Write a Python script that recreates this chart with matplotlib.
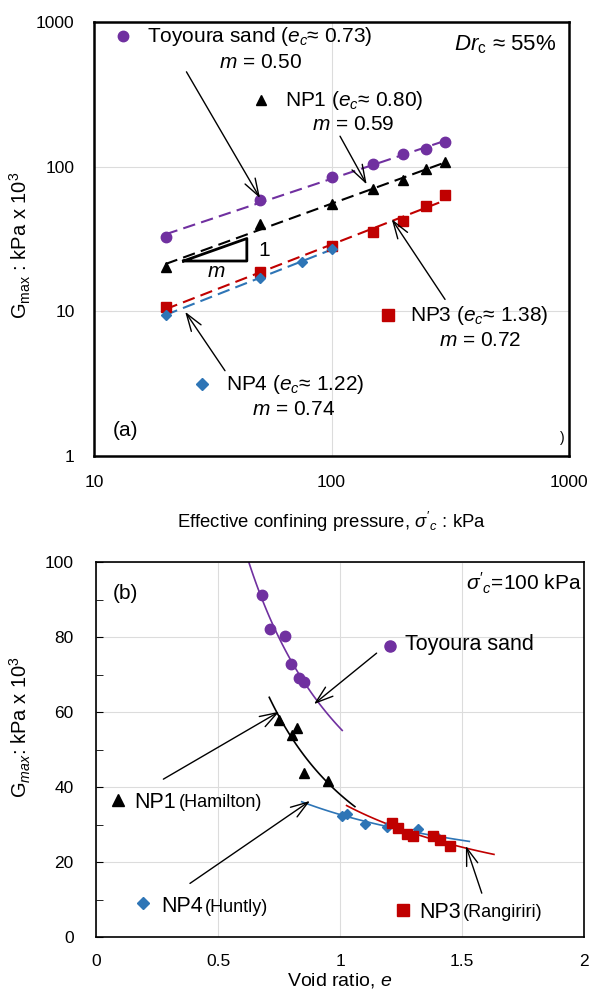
import numpy as np
import matplotlib.pyplot as plt

plt.rcParams['font.family'] = ['Liberation Sans', 'DejaVu Sans']
plt.rcParams['mathtext.fontset'] = 'custom'
plt.rcParams['mathtext.rm'] = 'Liberation Sans'
plt.rcParams['mathtext.it'] = 'Liberation Sans:italic'
plt.rcParams['mathtext.bf'] = 'Liberation Sans:bold'

# ---- (a) Gmax vs confining pressure ----
p_conf = [20, 50, 100, 150, 200, 250, 300]
g_toyoura = [32.8, 58.8, 84.3, 105, 121.6, 132, 149]
g_np1 = [20.3, 40, 55, 70.3, 80.8, 96.2, 108]
g_np3 = [10.7, 18.6, 28.3, 35.5, 42, 53.7, 64]
p_np4 = [20, 50, 75, 100]
g_np4 = [9.5, 17, 21.8, 27.2]

# ---- (b) Gmax vs void ratio at 100 kPa ----
e_toy = [0.682, 0.713, 0.773, 0.800, 0.832, 0.854]
gb_toy = [91.1, 82.1, 80.2, 72.8, 69.1, 68.1]
e_np1 = [0.750, 0.822, 0.802, 0.852, 0.952]
gb_np1 = [57.9, 55.8, 53.9, 43.8, 41.7]
e_np4 = [1.009, 1.030, 1.102, 1.191, 1.321, 1.403]
gb_np4 = [32.3, 32.8, 30.1, 29.4, 28.7, 26.3]
e_np3 = [1.212, 1.239, 1.276, 1.298, 1.382, 1.410, 1.451]
gb_np3 = [30.3, 29.2, 27.4, 27.0, 26.9, 25.9, 24.3]
# void ratio span of each trend curve
span_toy = (0.617, 1.009)
span_np1 = (0.71, 1.061)
span_np4 = (0.843, 1.53)
span_np3 = (1.027, 1.631)

PURPLE = '#7030A0'
RED = '#C00000'
BLUE = '#2E75B6'
GRID = '#DCDCDC'


def power_fit(x, y, xs):
    b, a = np.polyfit(np.log(x), np.log(y), 1)
    return np.exp(a) * np.asarray(xs) ** b


def arrow(ax, start, end):
    ax.annotate('', xy=end, xytext=start,
                arrowprops=dict(arrowstyle='->,head_length=0.9,head_width=0.3',
                                lw=1.0, color='k', shrinkA=0, shrinkB=0,
                                mutation_scale=14))


fig = plt.figure(figsize=(5.92, 9.94), dpi=100)

# ======================= panel (a) =======================
ax1 = fig.add_axes([0.1588, 0.5412, 0.8024, 0.4366])
ax1.set_xscale('log')
ax1.set_yscale('log')
ax1.set_xlim(10, 1000)
ax1.set_ylim(1, 1000)
ax1.grid(True, which='major', color=GRID, lw=0.8)
ax1.set_axisbelow(True)
ax1.tick_params(which='both', length=0, labelsize=12.5, pad=14)
ax1.minorticks_off()
ax1.set_xticks([10, 100, 1000])
ax1.set_xticklabels(['10', '100', '1000'])
ax1.set_yticks([1, 10, 100, 1000])
ax1.set_yticklabels(['1', '10', '100', '1000'])
for s in ax1.spines.values():
    s.set_linewidth(1.8)

series_a = [
    (p_conf, g_toyoura, PURPLE, 'o', 7.5),
    (p_conf, g_np1, 'k', '^', 7.5),
    (p_conf, g_np3, RED, 's', 7),
    (p_np4, g_np4, BLUE, 'D', 5.5),
]
for p, g, c, mk, ms in series_a:
    ax1.plot(p, g, mk, color=c, ms=ms, mec=c, zorder=3)
    ps = np.geomspace(min(p), max(p), 50)
    ax1.plot(ps, power_fit(p, g, ps), color=c, lw=1.5, dashes=(6, 3), zorder=2)

# slope triangle
ax1.plot([23.8, 44.0, 44.0, 23.8], [22.3, 22.3, 31.9, 22.3], color='k', lw=2)
ax1.text(49.2, 26.5, '1', fontsize=15, va='center', ha='left')
ax1.text(32.7, 18.8, '$m$', fontsize=15, va='center', ha='center')

fs = 15
ax1.plot([13.28], [803], 'o', color=PURPLE, ms=7.5)
ax1.text(16.7, 790, 'Toyoura sand ($e_c$≈ 0.73)', fontsize=fs, va='center')
ax1.text(50.4, 528, '$m$ = 0.50', fontsize=fs, va='center', ha='center')
ax1.plot([50.4], [288], '^', color='k', ms=7.5)
ax1.text(63.7, 288, 'NP1 ($e_c$≈ 0.80)', fontsize=fs, va='center')
ax1.text(123, 197, '$m$ = 0.59', fontsize=fs, va='center', ha='center')
ax1.plot([172.6], [9.43], 's', color=RED, ms=8)
ax1.text(214, 9.3, 'NP3 ($e_c$≈ 1.38)', fontsize=fs, va='center')
ax1.text(422, 6.34, '$m$ = 0.72', fontsize=fs, va='center', ha='center')
ax1.plot([28.4], [3.15], 'D', color=BLUE, ms=6)
ax1.text(35.9, 3.12, 'NP4 ($e_c$≈ 1.22)', fontsize=fs, va='center')
ax1.text(69.5, 2.11, '$m$ = 0.74', fontsize=fs, va='center', ha='center')
ax1.text(0.973, 0.947, r'$Dr_{\mathrm{c}}$ ≈ 55%', fontsize=16,
         transform=ax1.transAxes, ha='right', va='center')
ax1.text(0.04, 0.06, '(a)', fontsize=fs, transform=ax1.transAxes, va='center')
ax1.text(0.985, 0.042, ')', fontsize=10, transform=ax1.transAxes,
         va='center', ha='center')

arrow(ax1, (24.5, 453), (50, 60.7))
arrow(ax1, (108.6, 162.6), (140.6, 75.5))
arrow(ax1, (300.6, 12.1), (179.3, 43.4))
arrow(ax1, (35.6, 3.89), (24.2, 9.94))

ax1.set_xlabel("Effective confining pressure, $\\sigma'_c$ : kPa", fontsize=13.3,
               labelpad=14)
ax1.set_ylabel('G$_{\\mathrm{max}}$ : kPa x 10$^3$', fontsize=14.5)
ax1.yaxis.set_label_coords(-0.128, 0.486)

# ======================= panel (b) =======================
ax2 = fig.add_axes([0.1622, 0.0573, 0.8243, 0.3773])
ax2.set_xlim(0, 2)
ax2.set_ylim(0, 100)
ax2.set_xticks([0, 0.5, 1, 1.5, 2])
ax2.set_xticklabels(['0', '0.5', '1', '1.5', '2'])
ax2.set_yticks([0, 20, 40, 60, 80, 100])
ax2.set_yticks(np.arange(10, 100, 20), minor=True)
ax2.grid(True, which='major', color=GRID, lw=0.8)
ax2.set_axisbelow(True)
ax2.tick_params(axis='x', length=0, labelsize=12.5, pad=12)
ax2.tick_params(axis='y', which='both', direction='in', length=5,
                labelsize=12.5, pad=16)
for s in ax2.spines.values():
    s.set_linewidth(1.2)

series_b = [
    (e_toy, gb_toy, span_toy, PURPLE, 'o', 7.5),
    (e_np1, gb_np1, span_np1, 'k', '^', 7.5),
    (e_np4, gb_np4, span_np4, BLUE, 'D', 5),
    (e_np3, gb_np3, span_np3, RED, 's', 7),
]
for e, g, span, c, mk, ms in series_b:
    es = np.linspace(span[0], span[1], 60)
    ax2.plot(es, power_fit(e, g, es), color=c, lw=1.2, zorder=2)
    ax2.plot(e, g, mk, color=c, ms=ms, mec=c, zorder=3)

ax2.plot([1.205], [77.6], 'o', color=PURPLE, ms=8)
ax2.text(1.266, 77.9, 'Toyoura sand', fontsize=15.5, va='center')
ax2.plot([0.091], [36.5], '^', color='k', ms=8)
ax2.text(0.157, 34.4, 'NP1', fontsize=15.5, va='baseline')
ax2.text(0.34, 34.6, '(Hamilton)', fontsize=13, va='baseline')
ax2.plot([0.194], [9.0], 'D', color=BLUE, ms=6)
ax2.text(0.269, 6.6, 'NP4', fontsize=15.5, va='baseline')
ax2.text(0.447, 6.8, '(Huntly)', fontsize=13, va='baseline')
ax2.plot([1.259], [7.2], 's', color=RED, ms=8)
ax2.text(1.325, 5.0, 'NP3', fontsize=15.5, va='baseline')
ax2.text(1.505, 5.4, '(Rangiriri)', fontsize=13, va='baseline')
ax2.text(0.035, 0.917, '(b)', fontsize=15, transform=ax2.transAxes, va='center')
ax2.text(0.995, 0.944, "$\\sigma'_c$=100 kPa", fontsize=15,
         transform=ax2.transAxes, ha='right', va='center')

arrow(ax2, (1.15, 75.7), (0.893, 62.1))
arrow(ax2, (0.276, 42.1), (0.751, 60.1))
arrow(ax2, (0.385, 14.3), (0.877, 36.3))
arrow(ax2, (1.581, 11.7), (1.516, 24.3))

ax2.set_xlabel('Void ratio, $e$', fontsize=14, labelpad=2)
ax2.set_ylabel('G$_{max}$: kPa x 10$^3$', fontsize=14.5)
ax2.yaxis.set_label_coords(-0.129, 0.56)

fig.savefig('out.png', dpi=100)
